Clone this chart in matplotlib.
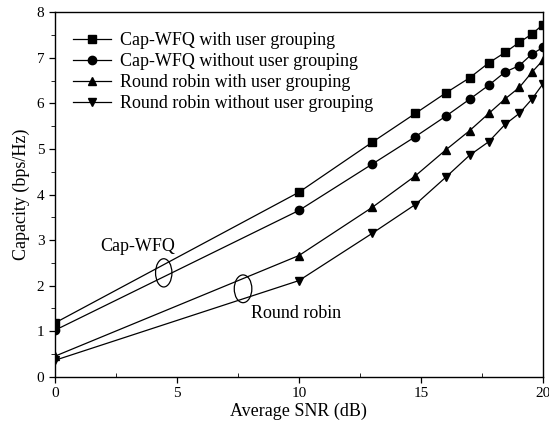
import matplotlib
matplotlib.use("Agg")
import matplotlib.pyplot as plt
from matplotlib.patches import Ellipse
from matplotlib.ticker import MultipleLocator

snr_db = [0, 10, 13.01, 14.77, 16.02, 16.99, 17.78, 18.45, 19.03, 19.54, 20]
capwfq_grp = [1.18, 4.05, 5.15, 5.78, 6.23, 6.56, 6.89, 7.12, 7.34, 7.52, 7.73]
capwfq_nogrp = [1.02, 3.65, 4.67, 5.27, 5.72, 6.09, 6.40, 6.69, 6.83, 7.08, 7.23]
rr_grp = [0.45, 2.66, 3.72, 4.41, 4.98, 5.40, 5.78, 6.10, 6.35, 6.68, 6.95]
rr_nogrp = [0.36, 2.11, 3.15, 3.78, 4.38, 4.86, 5.16, 5.54, 5.78, 6.09, 6.43]

labels = ["Cap-WFQ with user grouping", "Cap-WFQ without user grouping",
          "Round robin with user grouping", "Round robin without user grouping"]
markers = ["s", "o", "^", "v"]

plt.rcParams['font.family'] = ['Liberation Serif', 'DejaVu Serif']

fig = plt.figure(figsize=(5.49, 4.32), dpi=100)
ax = fig.add_axes([0.100, 0.128, 0.889, 0.8435])

for ys, m, lab in zip([capwfq_grp, capwfq_nogrp, rr_grp, rr_nogrp], markers, labels):
    ax.plot(snr_db, ys, color='black', lw=0.9, marker=m, ms=6, label=lab)

ax.set_xlim(0, 20)
ax.set_ylim(0, 8)
ax.xaxis.set_major_locator(MultipleLocator(5))
ax.xaxis.set_minor_locator(MultipleLocator(2.5))
ax.yaxis.set_major_locator(MultipleLocator(1))
ax.yaxis.set_minor_locator(MultipleLocator(0.5))
ax.tick_params(axis='both', which='major', direction='out', length=4, width=0.9, labelsize=11)
ax.tick_params(axis='x', which='minor', direction='in', length=3)
ax.tick_params(axis='y', which='minor', direction='out', length=3)
for s in ax.spines.values():
    s.set_linewidth(1.0)

ax.set_xlabel("Average SNR (dB)", fontsize=13, labelpad=2)
ax.set_ylabel("Capacity (bps/Hz)", fontsize=13, labelpad=5)

leg = ax.legend(loc='upper left', bbox_to_anchor=(0.012, 0.98), frameon=False,
                fontsize=13, handlelength=2.1, handletextpad=0.5, labelspacing=0.22,
                borderaxespad=0.3)

ax.text(1.85, 2.85, "Cap-WFQ", fontsize=13, ha='left', va='center')
ax.add_patch(Ellipse((4.46, 2.28), 0.67, 0.62, fill=False, ec='black', lw=0.9))
ax.text(8.05, 1.39, "Round robin", fontsize=13, ha='left', va='center')
ax.add_patch(Ellipse((7.71, 1.93), 0.72, 0.61, fill=False, ec='black', lw=0.9))

fig.savefig("out.png", dpi=100)
